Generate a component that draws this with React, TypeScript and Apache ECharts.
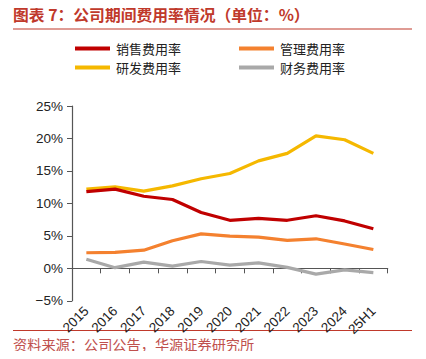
import React, { useEffect, useRef } from "react";
import * as echarts from "echarts";

const categories = ["2015", "2016", "2017", "2018", "2019", "2020", "2021", "2022", "2023", "2024", "25H1"];
const salesRate = [11.8, 12.2, 11.1, 10.6, 8.6, 7.4, 7.7, 7.4, 8.1, 7.3, 6.1];
const adminRate = [2.4, 2.45, 2.8, 4.25, 5.3, 4.95, 4.8, 4.3, 4.55, 3.75, 2.9];
const rdRate = [12.2, 12.55, 11.9, 12.7, 13.8, 14.6, 16.55, 17.7, 20.4, 19.8, 17.7];
const finRate = [1.4, 0.1, 0.95, 0.35, 1.05, 0.5, 0.85, 0.15, -0.9, -0.25, -0.65];
const seriesNames = ["销售费用率", "管理费用率", "研发费用率", "财务费用率"];
const seriesColors = ["#C00000", "#F4812F", "#F5B800", "#A9A9A9"];
const titleText = "图表 7：公司期间费用率情况（单位：%）";
const sourceText = "资料来源：公司公告，华源证券研究所";

const FONT = "'Liberation Sans', Arial, sans-serif";
const CJK = "'Noto Sans CJK SC', sans-serif";

export default function App() {
  const ref = useRef<HTMLDivElement>(null);
  useEffect(() => {
    if (!ref.current) return;
    const chart = echarts.init(ref.current, null, { renderer: "svg" });
    const data = [salesRate, adminRate, rdRate, finRate];
    const legendCommon = {
      left: 75,
      itemWidth: 35,
      itemHeight: 4,
      itemGap: 58,
      icon: "rect",
      padding: 0,
      textStyle: { fontSize: 13, lineHeight: 13, color: "#222", fontFamily: CJK, padding: [0, 0, 0, 1] },
    };
    chart.setOption({
      animation: false,
      backgroundColor: "#fff",
      graphic: [
        {
          type: "text",
          left: 13,
          top: 7,
          style: { text: titleText, fontSize: 15.8, fontWeight: "bold", fill: "#C0392B", fontFamily: CJK },
        },
        { type: "line", shape: { x1: 13, y1: 29, x2: 412, y2: 29 }, style: { stroke: "#C0392B", lineWidth: 1.2 } },
        { type: "line", shape: { x1: 13, y1: 330.5, x2: 412, y2: 330.5 }, style: { stroke: "#C0392B", lineWidth: 1.2 } },
        {
          type: "text",
          left: 13,
          top: 337,
          style: { text: sourceText, fontSize: 14.2, fill: "#C0504D", fontFamily: CJK },
        },
      ],
      legend: [
        { ...legendCommon, top: 42, data: [seriesNames[0], seriesNames[1]] },
        { ...legendCommon, top: 61, data: [seriesNames[2], seriesNames[3]] },
      ],
      grid: { left: 72, top: 106, width: 315.7, height: 194.8, containLabel: false },
      xAxis: {
        type: "category",
        data: categories,
        boundaryGap: true,
        axisLine: { onZero: true, lineStyle: { color: "#555", width: 1.2 } },
        axisTick: { show: true, alignWithLabel: false, length: 5, lineStyle: { color: "#555" } },
        axisLabel: { rotate: 45, fontSize: 13.5, color: "#222", fontFamily: FONT, margin: 8, interval: 0 },
      },
      yAxis: {
        type: "value",
        min: -5,
        max: 25,
        interval: 5,
        splitLine: { show: false },
        axisLine: { show: true, onZero: false, lineStyle: { color: "#555", width: 1.2 } },
        axisTick: { show: true, length: 5, lineStyle: { color: "#555" } },
        axisLabel: {
          fontSize: 13.5,
          color: "#222",
          fontFamily: FONT,
          margin: 9,
          formatter: (v: number) => (v < 0 ? "\u2212" + Math.abs(v) + "%" : v + "%"),
        },
      },
      series: seriesNames.map((name, i) => ({
        name,
        type: "line",
        data: data[i],
        symbol: "none",
        color: seriesColors[i],
        lineStyle: { width: 3.2, color: seriesColors[i] },
        z: i === 3 ? 1 : 2 + (3 - i),
      })),
    });
    return () => chart.dispose();
  }, []);
  return <div ref={ref} style={{ width: 426, height: 359, margin: -8 }} />;
}
